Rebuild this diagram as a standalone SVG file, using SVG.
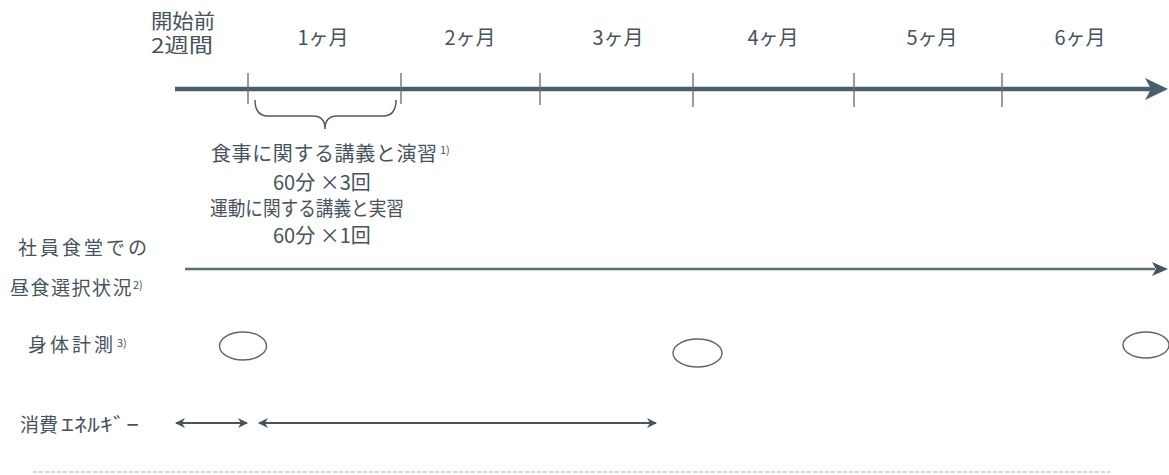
<svg xmlns="http://www.w3.org/2000/svg" width="1169" height="475" viewBox="0 0 1169 475">
<style>
text{font-family:"Noto Sans CJK JP","Noto Sans",sans-serif;fill:#47535d}
.m{font-size:20px;text-anchor:middle}
.l{font-size:20px}
.lab{font-size:19px}
.sup{font-size:11px}
.tick{stroke:#5d6b75;stroke-width:1.3}
.ell{fill:none;stroke:#5f666b;stroke-width:1.4}
</style>
<defs>
<marker id="ah" viewBox="0 0 10 10" refX="9" refY="5" markerWidth="10" markerHeight="10" markerUnits="userSpaceOnUse" orient="auto-start-reverse">
<path d="M0,0 L10,5 L0,10 L3,5 Z" fill="#47535d"/>
</marker>
</defs>
<g id="timeline">
<line x1="175" y1="89" x2="1152" y2="89" stroke="#4a5f6e" stroke-width="4.5"/>
<polygon points="1168,89 1145,78 1151,89 1145,100" fill="#4a5f6e"/>
<line class="tick" x1="248" y1="73" x2="248" y2="104"/>
<line class="tick" x1="401" y1="73" x2="401" y2="104"/>
<line class="tick" x1="540" y1="73" x2="540" y2="105"/>
<line class="tick" x1="693" y1="73" x2="693" y2="107"/>
<line class="tick" x1="854" y1="73" x2="854" y2="107"/>
<line class="tick" x1="1002" y1="73" x2="1002" y2="107"/>
</g>
<g id="headers">
<text class="m" x="183" y="29" style="font-size:20px" textLength="64" lengthAdjust="spacingAndGlyphs">開始前</text>
<text class="m" x="182" y="53" style="font-size:20px" textLength="62" lengthAdjust="spacingAndGlyphs">2週間</text>
<text class="m" x="323" y="45">1ヶ月</text>
<text class="m" x="470" y="45">2ヶ月</text>
<text class="m" x="618" y="45">3ヶ月</text>
<text class="m" x="773" y="45">4ヶ月</text>
<text class="m" x="932" y="45">5ヶ月</text>
<text class="m" x="1080" y="45">6ヶ月</text>
</g>
<g id="lecture">
<path d="M255,100 Q255,116 268,116 L313,116 Q325,116 325,129 Q325,116 337,116 L383,116 Q396,116 396,100" fill="none" stroke="#4f5b65" stroke-width="1.5"/>
<text class="l" x="211" y="161" textLength="226" lengthAdjust="spacing">食事に関する講義と演習</text>
<text class="sup" x="440" y="154">1)</text>
<text class="l" x="273" y="190">60分 ×3回</text>
<text class="l" x="210" y="216" textLength="194" lengthAdjust="spacingAndGlyphs">運動に関する講義と実習</text>
<text class="l" x="273" y="243">60分 ×1回</text>
</g>
<g id="lunch">
<text class="lab" x="18" y="255" style="letter-spacing:3px">社員食堂での</text>
<text class="lab" x="10" y="295" style="letter-spacing:1.5px">昼食選択状況</text>
<text class="sup" x="133" y="289">2)</text>
</g>
<g id="body">
<text class="lab" x="28" y="352" style="letter-spacing:3px">身体計測</text>
<text class="sup" x="117" y="347">3)</text>
<ellipse class="ell" cx="243" cy="346" rx="23.5" ry="14"/>
<ellipse class="ell" cx="697.5" cy="353" rx="24.5" ry="14"/>
<ellipse class="ell" cx="1146" cy="345" rx="23" ry="13"/>
</g>
<g id="energy">
<text class="lab" x="20" y="432">消費<tspan x="61" textLength="78" lengthAdjust="spacingAndGlyphs">ｴﾈﾙｷﾞｰ</tspan></text>
</g>
<g id="connectors">
<line x1="185" y1="269" x2="1155" y2="269" stroke="#5f6d76" stroke-width="2.5"/>
<polygon points="1168,269 1152,262 1156,269 1152,276" fill="#47535d"/>
<line x1="176" y1="423" x2="247" y2="423" stroke="#47535d" stroke-width="1.8" marker-start="url(#ah)" marker-end="url(#ah)"/>
<line x1="259" y1="423" x2="656" y2="423" stroke="#47535d" stroke-width="1.8" marker-start="url(#ah)" marker-end="url(#ah)"/>
<line x1="33" y1="472" x2="1110" y2="472" stroke="#c3cbd2" stroke-width="1.5" stroke-dasharray="4 2"/>
</g>
</svg>
